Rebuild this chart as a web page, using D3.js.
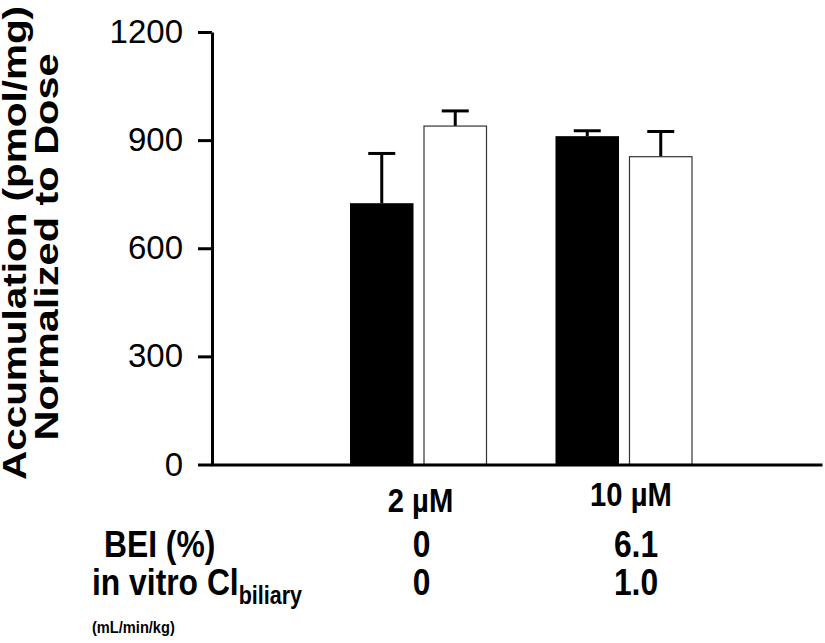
<!DOCTYPE html>
<html>
<head>
<meta charset="utf-8">
<script src="https://cdn.jsdelivr.net/npm/d3@7"></script>
<style>
  body { margin: 0; background: #fff; }
  svg { display: block; }
  .narrow { font-family: "Liberation Sans Narrow", "Arial Narrow", "Liberation Sans", Arial, sans-serif; font-weight: bold; }
</style>
</head>
<body>
<svg id="chart" width="825" height="643"></svg>
<script>
// Dose groups and the two bar series (filled / open)
const doses = ["2 µM", "10 µM"];
const series = ["filled", "open"];
const filledMeans = [725, 911];
const filledErr = [138, 15];
const openMeans = [939, 854];
const openErr = [42, 70];
const yTicks = [0, 300, 600, 900, 1200];
const beiValues = ["0", "6.1"];
const clBiliaryValues = ["0", "1.0"];

const svg = d3.select("#chart");

const y = d3.scaleLinear().domain([0, 1200]).range([464.5, 32]);
const x = d3.scaleBand().domain(doses).range([315.75, 726.75]);
const groupWidth = 137;
const inner = d3.scaleBand().domain(series).range([0, groupWidth]).paddingInner(0.136);
const groupLeft = d => x(d) + (x.bandwidth() - groupWidth) / 2;
const groupCenter = d => x(d) + x.bandwidth() / 2;

// condensed bold text: regular glyphs squeezed horizontally
const NARROW = 0.86;
function narrowText(sel, px, py) {
  return sel.attr("transform", `translate(${px},${py}) scale(${NARROW},1)`);
}

const rows = [];
doses.forEach((d, i) => {
  rows.push({ dose: d, s: "filled", v: filledMeans[i], e: filledErr[i] });
  rows.push({ dose: d, s: "open", v: openMeans[i], e: openErr[i] });
});

// error bars (upper whisker only) drawn behind the bars
const err = svg.append("g").attr("stroke", "#000").attr("stroke-width", 3);
rows.forEach(r => {
  const cx = groupLeft(r.dose) + inner(r.s) + inner.bandwidth() / 2;
  err.append("line").attr("x1", cx).attr("x2", cx).attr("y1", y(r.v)).attr("y2", y(r.v + r.e));
  err.append("line").attr("x1", cx - 13.5).attr("x2", cx + 13.5).attr("y1", y(r.v + r.e)).attr("y2", y(r.v + r.e));
});

// bars
svg.append("g").selectAll("rect").data(rows).join("rect")
  .attr("x", r => groupLeft(r.dose) + inner(r.s) + (r.s === "open" ? 0.5 : 0))
  .attr("width", r => inner.bandwidth() - (r.s === "open" ? 1 : 0))
  .attr("y", r => y(r.v))
  .attr("height", r => y(0) - y(r.v))
  .attr("fill", r => r.s === "filled" ? "#000" : "#fff")
  .attr("stroke", r => r.s === "filled" ? "none" : "#333")
  .attr("stroke-width", 1.2);

// y axis
const yAxis = svg.append("g").attr("transform", "translate(212,0)")
  .call(d3.axisLeft(y).tickValues(yTicks).tickFormat(d3.format("d"))
    .tickSize(14).tickSizeOuter(0).tickPadding(15));
yAxis.select(".domain").attr("stroke-width", 3);
yAxis.selectAll(".tick line").attr("stroke-width", 3);
yAxis.selectAll(".tick text")
  .attr("font-family", "'Liberation Sans', Arial, sans-serif")
  .attr("font-size", 33).attr("fill", "#000");

// x baseline
const xLine = d3.scaleLinear().range([210.5, 822]);
const xAxis = svg.append("g").attr("transform", `translate(0,${y(0)})`)
  .call(d3.axisBottom(xLine).tickValues([]).tickSizeOuter(0));
xAxis.select(".domain").attr("stroke-width", 3);

// dose labels
svg.append("g").attr("class", "narrow").attr("font-size", 34).attr("text-anchor", "middle")
  .selectAll("text").data(doses).join("text")
  .each(function (d, i) {
    narrowText(d3.select(this), groupCenter(d) + (i === 0 ? 2 : 7), i === 0 ? 512 : 506);
  })
  .text(d => d);

// y title (stretched along its reading direction)
const title = svg.append("g")
  .attr("font-family", "'Liberation Sans', Arial, sans-serif")
  .attr("font-weight", "bold").attr("font-size", 34).attr("text-anchor", "middle");
title.append("text").attr("transform", "translate(26,243) rotate(-90) scale(1.19,1)").text("Accumulation (pmol/mg)");
title.append("text").attr("transform", "translate(58,247) rotate(-90) scale(1.22,1)").text("Normalized to Dose");

// table under the chart
const table = svg.append("g").attr("class", "narrow").attr("font-size", 37);
narrowText(table.append("text"), 104, 557).text("BEI (%)");
const cl = narrowText(table.append("text"), 92, 595);
cl.append("tspan").text("in vitro Cl");
cl.append("tspan").attr("font-size", 25).attr("dy", 9).text("biliary");
narrowText(table.append("text"), 92, 633).attr("font-size", 17).text("(mL/min/kg)");

table.append("g").attr("text-anchor", "middle").selectAll("text").data(beiValues).join("text")
  .each(function (d, i) { narrowText(d3.select(this), groupCenter(doses[i]) + (i === 0 ? 3 : 12), 557); })
  .text(d => d);
table.append("g").attr("text-anchor", "middle").selectAll("text").data(clBiliaryValues).join("text")
  .each(function (d, i) { narrowText(d3.select(this), groupCenter(doses[i]) + (i === 0 ? 3 : 12), 595); })
  .text(d => d);
</script>
</body>
</html>
